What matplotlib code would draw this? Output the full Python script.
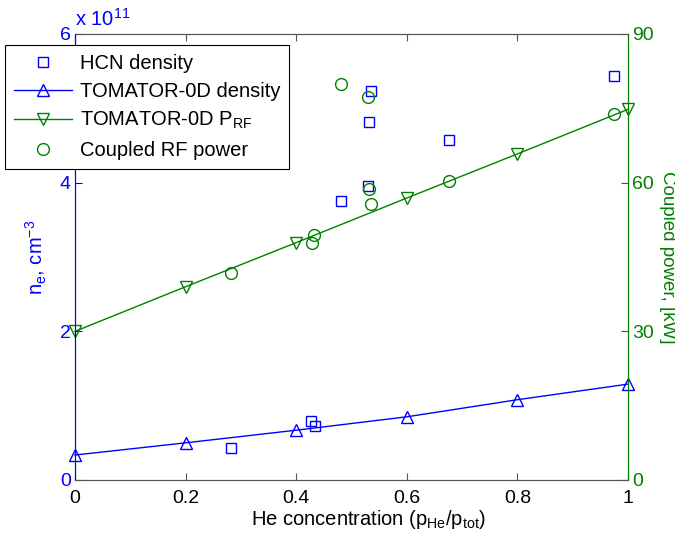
import matplotlib
matplotlib.use("Agg")
import matplotlib.pyplot as plt

plt.rcParams.update({
    "font.family": "Liberation Sans",
    "font.size": 14,
    "mathtext.fontset": "custom",
    "mathtext.rm": "Liberation Sans",
    "mathtext.it": "Liberation Sans:italic",
    "mathtext.bf": "Liberation Sans:bold",
})

C_BLUE = "#0000FF"
C_GREEN = "#008000"

# ── Data (density in units of 1e11 cm^-3, power in kW) ─────────────────────────
hcn_x = [0.283, 0.427, 0.434, 0.481, 0.530, 0.532, 0.535, 0.677, 0.974]
hcn_ne = [0.435, 0.80, 0.72, 3.75, 3.95, 4.82, 5.23, 4.58, 5.44]

tom_x = [0.0, 0.2, 0.4, 0.6, 0.8, 1.0]
tom_ne = [0.336, 0.50, 0.67, 0.85, 1.08, 1.29]
tom_prf = [30.0, 39.0, 47.9, 56.9, 65.8, 74.8]

rf_x = [0.283, 0.428, 0.432, 0.481, 0.530, 0.532, 0.535, 0.677, 0.974]
rf_kw = [41.8, 47.8, 49.5, 80.0, 77.2, 58.8, 55.7, 60.3, 73.9]

x_ticks = [0, 0.2, 0.4, 0.6, 0.8, 1]
x_ticklabels = ["0", "0.2", "0.4", "0.6", "0.8", "1"]
ne_ticks = [0, 2, 4, 6]
kw_ticks = [0, 30, 60, 90]

fig = plt.figure(figsize=(6.75, 5.44), dpi=100)
ax = fig.add_axes([75/675, 1 - 480/544, 553/675, 446/544])
ax2 = ax.twinx()

# left axis: densities
h1, = ax.plot(hcn_x, hcn_ne, ls="none", marker="s", ms=7, mfc="none",
              mec=C_BLUE, mew=1.0, label="HCN density")
h2, = ax.plot(tom_x, tom_ne, color=C_BLUE, lw=1.0, marker="^", ms=9,
              mfc="none", mec=C_BLUE, mew=1.0, label="TOMATOR-0D density",
              clip_on=False)

# right axis: power
h3, = ax2.plot(tom_x, tom_prf, color=C_GREEN, lw=1.0, marker="v", ms=9,
               mfc="none", mec=C_GREEN, mew=1.0,
               label=r"TOMATOR-0D P$_{\mathrm{RF}}$", clip_on=False)
h4, = ax2.plot(rf_x, rf_kw, ls="none", marker="o", ms=8.5, mfc="none",
               mec=C_GREEN, mew=1.0, label="Coupled RF power")

ax.set_xlim(0, 1)
ax.set_ylim(0, 6)
ax2.set_ylim(0, 90)
ax.set_xticks(x_ticks)
ax.set_xticklabels(x_ticklabels)
ax.set_yticks(ne_ticks)
ax2.set_yticks(kw_ticks)

ax.tick_params(axis="x", direction="in", top=True, length=5,
               colors="#555555", labelcolor="black", labelsize=14, pad=7)
ax.tick_params(axis="y", direction="in", length=5, colors=C_BLUE,
               labelsize=14, pad=3)
ax2.tick_params(axis="y", direction="in", length=5, colors=C_GREEN,
                labelsize=14, pad=3)

for a in (ax, ax2):
    a.spines["top"].set_color("#555555")
    a.spines["bottom"].set_color("#555555")
    a.spines["left"].set_color(C_BLUE)
    a.spines["right"].set_color(C_GREEN)

ax.set_xlabel(r"He concentration (p$_{\mathrm{He}}$/p$_{\mathrm{tot}}$)",
              fontsize=14.5)
ax.xaxis.set_label_coords(0.53, -0.062, transform=ax.transAxes)
ax.xaxis.label.set_va("top")
ax.set_ylabel(r"n$_{\mathrm{e}}$, cm$^{\mathrm{-3}}$", color=C_BLUE,
              fontsize=14.5, labelpad=8)
ax2.set_ylabel("Coupled power, [kW]", color=C_GREEN, fontsize=13.5,
               rotation=270, va="bottom", labelpad=4)

ax.text(0.0, 1.01, r"x 10$^{\mathrm{11}}$", transform=ax.transAxes,
        color=C_BLUE, fontsize=14.5, ha="left", va="bottom")

leg = ax2.legend(handles=[h1, h2, h3, h4], loc="upper left",
                 bbox_to_anchor=(5/675, 1 - 45/544),
                 bbox_transform=fig.transFigure, fancybox=False,
                 edgecolor="black", framealpha=1, handlelength=2.9,
                 borderpad=0.45, labelspacing=0.45, fontsize=14.5,
                 handletextpad=0.35, borderaxespad=0)
leg.get_frame().set_linewidth(0.8)

fig.savefig("out.png", dpi=100)
